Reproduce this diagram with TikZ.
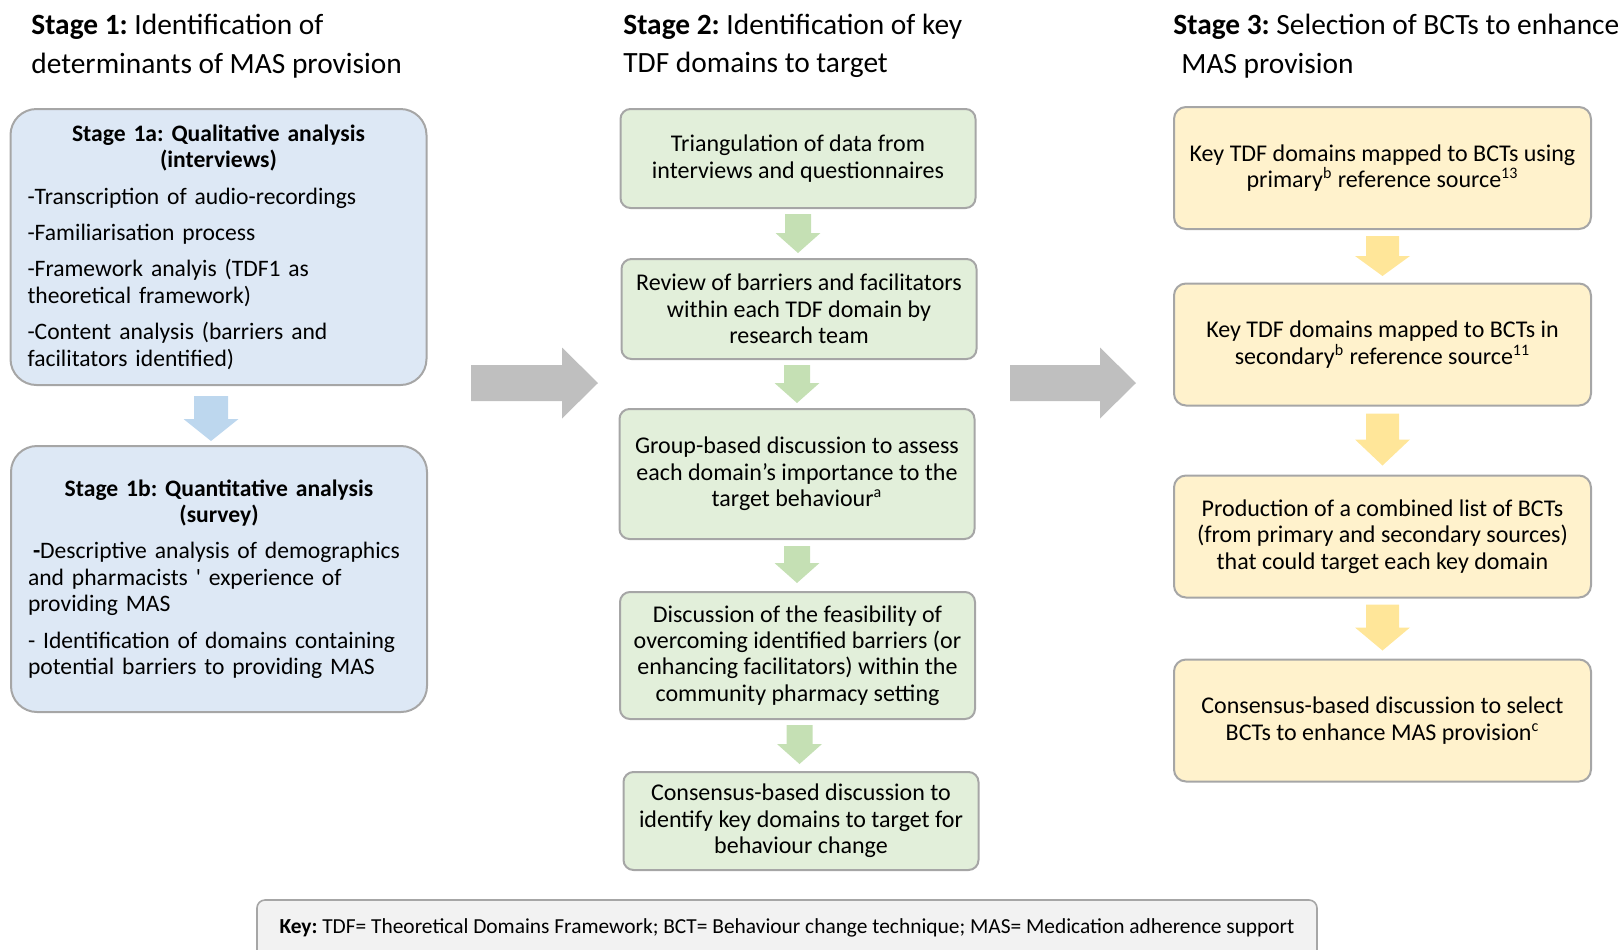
\documentclass[tikz,border=0pt]{standalone}
\usepackage{fontspec}
\setmainfont{Carlito}
\usetikzlibrary{calc}
\frenchspacing
\definecolor{bluefill}{HTML}{DDE8F5}
\definecolor{bluearrow}{HTML}{BDD7EE}
\definecolor{greenfill}{HTML}{E2EFDA}
\definecolor{greenarrow}{HTML}{C5E0B4}
\definecolor{yellowfill}{HTML}{FFF2CC}
\definecolor{yellowarrow}{HTML}{FFE699}
\definecolor{grayarrow}{HTML}{BFBFBF}
\definecolor{keyfill}{HTML}{F2F2F2}
\definecolor{boxborder}{HTML}{A6A6A6}
\newcommand{\vblk}[6]{\fill[#6] (#1) ++(-#2,0) -- ++(0,#4) -- ++(#2-#3,0) -- ++(#3,#5) -- ++(#3,-#5) -- ++(#2-#3,0) -- ++(0,-#4) -- cycle;}
\newcommand{\hblk}[6]{\fill[#6] (#1) ++(0,-#2) -- ++(#4,0) -- ++(0,#2-#3) -- ++(#5,#3) -- ++(-#5,#3) -- ++(0,#2-#3) -- ++(-#4,0) -- cycle;}
\tikzset{
  boxtext/.style={font=\frenchspacing\fontsize{12}{13.2}\selectfont},
  basebox/.style={draw=boxborder, line width=1pt, inner sep=0pt, outer sep=0pt, align=center, boxtext},
  bluebox/.style={basebox, fill=bluefill, rounded corners=13pt, minimum width=208pt, align=left, text width=191pt, inner xsep=8.5pt, font=\frenchspacing\fontsize{11.8}{13.2}\selectfont},
  greenbox/.style={basebox, fill=greenfill, rounded corners=5pt, minimum width=177.5pt},
  yellowbox/.style={basebox, fill=yellowfill, rounded corners=6pt, minimum width=208.5pt, minimum height=61pt},
  keybox/.style={draw=boxborder, line width=0.8pt, fill=keyfill, rounded corners=4pt, inner sep=0pt, outer sep=0pt},
  stagetitle/.style={anchor=west, align=left, inner sep=0pt, font=\frenchspacing\fontsize{14.7}{19.25}\selectfont},
}
\begin{document}
\begin{tikzpicture}[x=0.5pt,y=-0.5pt]
\useasboundingbox (0,0) rectangle (1624,949);

% titles
\node[stagetitle] (s1) at (31,46) {\textbf{Stage 1:} Identification of\\determinants of MAS provision};
\node[stagetitle] (s2) at (623,46) {\textbf{Stage 2:} Identification of key\\TDF domains to target};
\node[stagetitle] (s3) at (1173,46) {\textbf{Stage 3:} Selection of BCTs to enhance\\\hspace*{4pt}MAS provision};

% stage 1 boxes
\node[bluebox, minimum height=138pt] (b1a) at (218.5,247) {%
\makebox[191pt][c]{\textbf{Stage 1a: Qualitative analysis}}\\
\makebox[191pt][c]{\textbf{(interviews)}}\\[5pt]
-Transcription of audio-recordings\\[5pt]
-Familiarisation process\\[5pt]
-Framework analyis (TDF1 as\\theoretical framework)\\[5pt]
-Content analysis (barriers and\\facilitators identified)};

\node[bluebox, minimum height=133pt] (b1b) at (219,579) {%
\makebox[191pt][c]{\textbf{Stage 1b: Quantitative analysis}}\\
\makebox[191pt][c]{\textbf{(survey)}}\\[5pt]
\hspace*{2.5pt}\textbf{-}Descriptive analysis of demographics\\and pharmacists \textquotesingle{} experience of\\providing MAS\\[5pt]
- Identification of domains containing\\potential barriers to providing MAS};

% stage 2 boxes
\node[greenbox, minimum height=49.5pt] (t1) at (798,158.5) {Triangulation of data from\\interviews and questionnaires};
\node[greenbox, minimum height=50pt] (t2) at (799,309) {Review of barriers and facilitators\\within each TDF domain by\\research team};
\node[greenbox, minimum height=65pt] (t3) at (797,474) {Group-based discussion to assess\\each domain's importance to the\\target behaviour\textsuperscript{a}};
\node[greenbox, minimum height=63.5pt] (t4) at (797.5,655.5) {Discussion of the feasibility of\\overcoming identified barriers (or\\enhancing facilitators) within the\\community pharmacy setting};
\node[greenbox, minimum height=49pt] (t5) at (801,821) {Consensus-based discussion to\\identify key domains to target for\\behaviour change};

% stage 3 boxes
\node[yellowbox] (y1) at (1382.5,168) {Key TDF domains mapped to BCTs using\\primary\textsuperscript{b} reference source\textsuperscript{13}};
\node[yellowbox] (y2) at (1382.5,344.5) {Key TDF domains mapped to BCTs in\\secondary\textsuperscript{b} reference source\textsuperscript{11}};
\node[yellowbox] (y3) at (1382.5,536.5) {Production of a combined list of BCTs\\(from primary and secondary sources)\\that could target each key domain};
\node[yellowbox] (y4) at (1382.5,720.5) {Consensus-based discussion to select\\BCTs to enhance MAS provision\textsuperscript{c}};

% key
\node[keybox, anchor=north west, minimum width=530pt, minimum height=40pt] (key) at (257,900) {};
\node[inner sep=0pt, font=\frenchspacing\fontsize{10.7}{12}\selectfont] (keytext) at ($(key.north)+(0,28)$) {\textbf{Key:} TDF= Theoretical Domains Framework; BCT= Behaviour change technique; MAS= Medication adherence support};

% arrow tails
\coordinate (ab)  at ($(b1a.south)+(-7.5,11)$);
\coordinate (ga1) at ($(t1.south)+(0,6)$);
\coordinate (ga2) at ($(t2.south)+(-2,6)$);
\coordinate (ga3) at ($(t3.south)+(0,7)$);
\coordinate (ga4) at ($(t4.south)+(2,6)$);
\coordinate (ya1) at ($(y1.south)+(0,7)$);
\coordinate (ya2) at ($(y2.south)+(0,8)$);
\coordinate (ya3) at ($(y3.south)+(0,7)$);
\coordinate (gl) at (471,383);
\coordinate (gr) at (1010,383);

\vblk{ab}{17}{27.5}{23}{22}{bluearrow}
\vblk{ga1}{13}{22.5}{19}{20}{greenarrow}
\vblk{ga2}{13}{22.5}{18}{20}{greenarrow}
\vblk{ga3}{13}{22.5}{17}{20}{greenarrow}
\vblk{ga4}{13}{22.5}{19}{20}{greenarrow}
\vblk{ya1}{16.5}{27.5}{20}{20}{yellowarrow}
\vblk{ya2}{16.5}{27.5}{26}{26}{yellowarrow}
\vblk{ya3}{16.5}{27.5}{23}{23}{yellowarrow}
\hblk{gl}{18}{35.5}{91}{36}{grayarrow}
\hblk{gr}{18}{35.5}{90}{36}{grayarrow}
\end{tikzpicture}
\end{document}
